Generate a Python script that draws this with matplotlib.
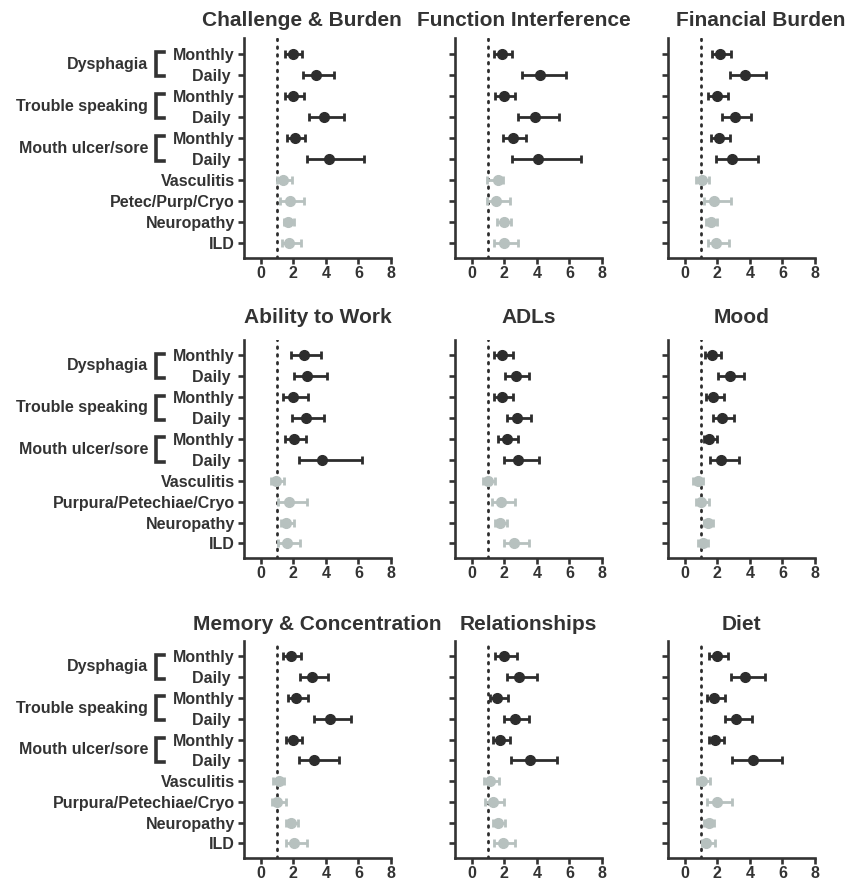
import matplotlib
matplotlib.use("Agg")
import matplotlib.pyplot as plt
from matplotlib.transforms import blended_transform_factory

plt.rcParams['font.family'] = ['Liberation Sans', 'DejaVu Sans']
plt.rcParams['font.weight'] = 'bold'

DARK = '#2d2d2d'
LIGHT = '#b7c1bf'
TEXT = '#333333'

# ---------------- data ----------------
labels_top = ["Monthly", "Daily ", "Monthly", "Daily ", "Monthly", "Daily ",
              "Vasculitis", "Petec/Purp/Cryo", "Neuropathy", "ILD"]
labels_lower = ["Monthly", "Daily ", "Monthly", "Daily ", "Monthly", "Daily ",
                "Vasculitis", "Purpura/Petechiae/Cryo", "Neuropathy", "ILD"]
groups = ["Dysphagia", "Trouble speaking", "Mouth ulcer/sore"]
xticks = [0, 2, 4, 6, 8]
titles = ["Challenge & Burden", "Function Interference", "Financial Burden",
          "Ability to Work", "ADLs", "Mood",
          "Memory & Concentration", "Relationships", "Diet"]

challenge_mean = [1.97, 3.41, 1.97, 3.86, 2.11, 4.21, 1.35, 1.81, 1.70, 1.76]
challenge_lo = [1.50, 2.58, 1.50, 2.97, 1.64, 2.85, 0.98, 1.19, 1.44, 1.29]
challenge_hi = [2.56, 4.51, 2.63, 5.09, 2.71, 6.32, 1.93, 2.67, 2.07, 2.46]

function_mean = [1.85, 4.21, 1.95, 3.90, 2.52, 4.06, 1.64, 1.48, 1.95, 1.95]
function_lo = [1.39, 3.08, 1.44, 2.87, 1.91, 2.46, 0.96, 0.92, 1.58, 1.37]
function_hi = [2.46, 5.81, 2.65, 5.33, 3.34, 6.71, 1.91, 2.32, 2.40, 2.81]

financial_mean = [2.17, 3.72, 1.96, 3.06, 2.13, 2.93, 1.03, 1.80, 1.61, 1.92]
financial_lo = [1.65, 2.79, 1.45, 2.27, 1.63, 1.90, 0.72, 1.18, 1.30, 1.40]
financial_hi = [2.83, 4.98, 2.64, 4.09, 2.79, 4.50, 1.51, 2.81, 1.96, 2.69]

work_mean = [2.63, 2.85, 1.98, 2.75, 2.02, 3.77, 0.93, 1.74, 1.54, 1.62]
work_lo = [1.84, 2.02, 1.38, 1.94, 1.48, 2.33, 0.61, 1.03, 1.23, 1.07]
work_hi = [3.70, 4.05, 2.89, 3.87, 2.79, 6.23, 1.44, 2.83, 2.02, 2.43]

adl_mean = [1.83, 2.72, 1.85, 2.78, 2.14, 2.82, 1.00, 1.79, 1.73, 2.61]
adl_lo = [1.38, 2.04, 1.38, 2.14, 1.63, 1.95, 0.70, 1.23, 1.42, 2.00]
adl_hi = [2.51, 3.54, 2.51, 3.64, 2.82, 4.16, 1.44, 2.65, 2.14, 3.50]

mood_mean = [1.65, 2.75, 1.76, 2.27, 1.51, 2.21, 0.79, 0.97, 1.45, 1.10]
mood_lo = [1.24, 2.07, 1.28, 1.76, 1.18, 1.55, 0.52, 0.68, 1.18, 0.79]
mood_hi = [2.23, 3.66, 2.38, 3.00, 2.00, 3.31, 1.10, 1.51, 1.76, 1.45]

memory_mean = [1.85, 3.14, 2.17, 4.23, 1.97, 3.28, 1.09, 0.98, 1.87, 2.07]
memory_lo = [1.39, 2.38, 1.66, 3.24, 1.54, 2.32, 0.74, 0.72, 1.56, 1.56]
memory_hi = [2.48, 4.12, 2.93, 5.54, 2.52, 4.78, 1.44, 1.56, 2.28, 2.83]

relation_mean = [2.01, 2.93, 1.56, 2.63, 1.76, 3.55, 1.09, 1.29, 1.64, 1.91]
relation_lo = [1.44, 2.17, 1.09, 1.97, 1.33, 2.43, 0.78, 0.84, 1.33, 1.39]
relation_hi = [2.77, 4.00, 2.22, 3.49, 2.36, 5.25, 1.66, 1.95, 2.07, 2.63]

diet_mean = [2.00, 3.72, 1.82, 3.16, 1.86, 4.17, 1.03, 2.00, 1.49, 1.30]
diet_lo = [1.49, 2.83, 1.34, 2.48, 1.49, 2.89, 0.76, 1.38, 1.20, 1.03]
diet_hi = [2.64, 4.92, 2.48, 4.13, 2.44, 5.99, 1.55, 2.93, 1.80, 1.86]

panels = [
    (challenge_mean, challenge_lo, challenge_hi),
    (function_mean, function_lo, function_hi),
    (financial_mean, financial_lo, financial_hi),
    (work_mean, work_lo, work_hi),
    (adl_mean, adl_lo, adl_hi),
    (mood_mean, mood_lo, mood_hi),
    (memory_mean, memory_lo, memory_hi),
    (relation_mean, relation_lo, relation_hi),
    (diet_mean, diet_lo, diet_hi),
]

# ---------------- layout ----------------
W, H = 848, 890
fig = plt.figure(figsize=(W / 100, H / 100), dpi=100)

col_left = [244, 455, 668]
ax_w = 147
row_top = [38, 340, 641]
row_bot = [258, 558, 858]
row_pad = [9, 12, 8]
title_x = [0.395, 0.469, 0.633, 0.5, 0.5, 0.5, 0.5, 0.5, 0.5]

for p, (mean, lo, hi) in enumerate(panels):
    r, c = divmod(p, 3)
    ax = fig.add_axes([col_left[c] / W, 1 - row_bot[r] / H,
                       ax_w / W, (row_bot[r] - row_top[r]) / H])
    n = len(mean)
    ax.axvline(1, color=DARK, linestyle=(0, (0.6, 2.2)), linewidth=2.0,
               dash_capstyle='round', zorder=1)
    for i in range(n):
        col = DARK if i < 6 else LIGHT
        ax.errorbar([mean[i]], [i], xerr=[[mean[i] - lo[i]], [hi[i] - mean[i]]],
                    fmt='o', color=col, ecolor=col, markersize=7.0,
                    elinewidth=2.0, capsize=3.2, capthick=2.0, zorder=3)
    ax.set_xlim(-1.03, 8)
    ax.set_ylim(9.7, -0.74)
    ax.set_xticks(xticks)
    ax.set_xticklabels([str(t) for t in xticks])
    ax.set_yticks(range(n))
    labels = labels_top if r == 0 else labels_lower
    if c == 0:
        ax.set_yticklabels(labels)
    else:
        ax.set_yticklabels([])
    for s in ['top', 'right']:
        ax.spines[s].set_visible(False)
    for s in ['left', 'bottom']:
        ax.spines[s].set_linewidth(1.9)
        ax.spines[s].set_color(TEXT)
    ax.tick_params(axis='both', length=4.5, width=1.9, color=TEXT,
                   labelcolor=TEXT, labelsize=11.5, pad=2)
    ax.tick_params(axis='x', pad=1.5)
    ax.set_title(titles[p], fontsize=15, fontweight='bold', color=TEXT,
                 x=title_x[p], pad=row_pad[r])

    if c == 0:
        tr = blended_transform_factory(ax.transAxes, ax.transData)
        for g, name in enumerate(groups):
            y0 = 2 * g
            ax.text(-0.653, y0 + 0.5, name, transform=tr, ha='right',
                    va='center', fontsize=11.5, fontweight='bold', color=TEXT)
            bx0, bx1 = -0.600, -0.545
            ax.plot([bx1, bx0, bx0, bx1], [y0 - 0.08, y0 - 0.08, y0 + 1.08, y0 + 1.08],
                    transform=tr, color=TEXT, linewidth=2.6, clip_on=False,
                    solid_joinstyle='miter')

fig.savefig("out.png", dpi=100)
